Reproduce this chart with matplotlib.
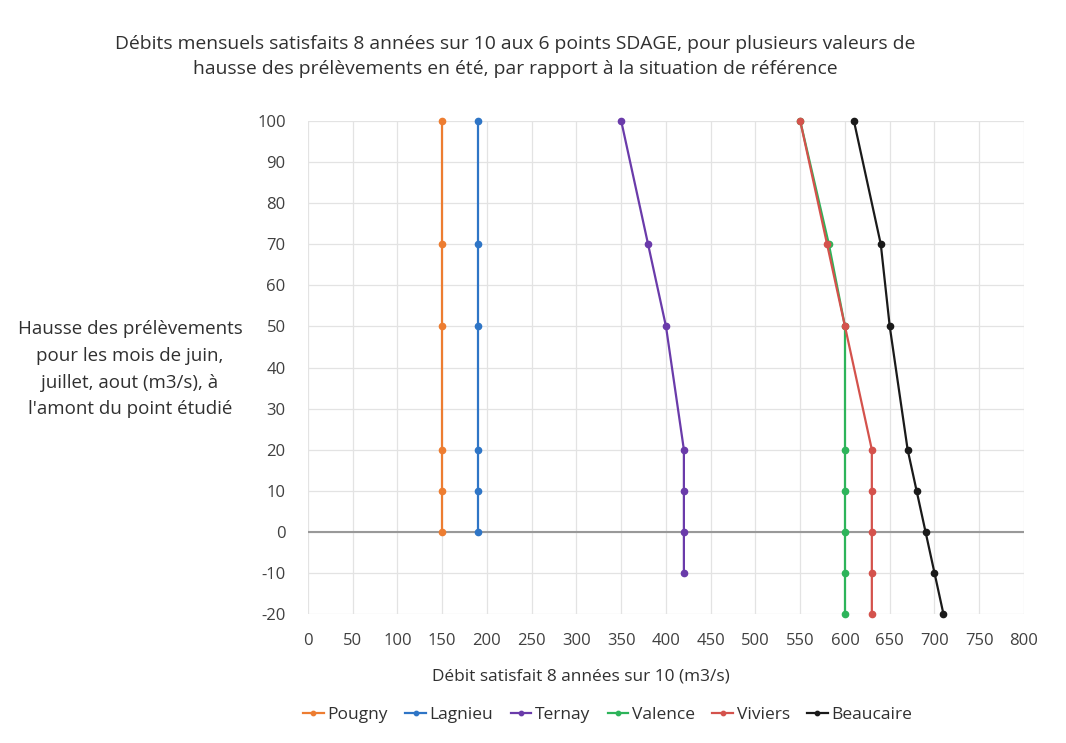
import matplotlib.pyplot as plt

plt.rcParams['font.family'] = ['Open Sans', 'DejaVu Sans']
plt.rcParams['axes.unicode_minus'] = False

# hausse des prélèvements (m3/s) and débit satisfait (m3/s) per station
hausse_pougny = [100, 70, 50, 20, 10, 0]
debit_pougny = [150, 150, 150, 150, 150, 150]

hausse_lagnieu = [100, 70, 50, 20, 10, 0]
debit_lagnieu = [190, 190, 190, 190, 190, 190]

hausse_ternay = [100, 70, 50, 20, 10, 0, -10]
debit_ternay = [350, 380, 400, 420, 420, 420, 420]

hausse_valence = [100, 70, 50, 20, 10, 0, -10, -20]
debit_valence = [550, 582, 600, 600, 600, 600, 600, 600]

hausse_viviers = [100, 70, 50, 20, 10, 0, -10, -20]
debit_viviers = [550, 580, 600, 630, 630, 630, 630, 630]

hausse_beaucaire = [100, 70, 50, 20, 10, 0, -10, -20]
debit_beaucaire = [610, 640, 650, 670, 680, 690, 700, 710]

series = [
    ('Pougny', debit_pougny, hausse_pougny, '#ED7D31'),
    ('Lagnieu', debit_lagnieu, hausse_lagnieu, '#2E75C6'),
    ('Ternay', debit_ternay, hausse_ternay, '#6A3BAA'),
    ('Valence', debit_valence, hausse_valence, '#2DB45A'),
    ('Viviers', debit_viviers, hausse_viviers, '#D4524C'),
    ('Beaucaire', debit_beaucaire, hausse_beaucaire, '#1A1A1A'),
]

fig = plt.figure(figsize=(10.66, 7.43), dpi=100)
ax = fig.add_axes([0.2889, 0.1736, 0.6717, 0.6635])

for name, x, y, c in series:
    ax.plot(x, y, '-o', color=c, lw=1.6, ms=4.5, label=name, clip_on=False)

ax.set_xlim(0, 800)
ax.set_ylim(-20, 100)
ax.set_xticks(range(0, 801, 50))
ax.set_yticks(range(-20, 101, 10))
ax.grid(color='#E3E3E3', lw=0.9)
ax.set_axisbelow(True)
ax.axhline(0, color='#999999', lw=1.5, zorder=1)
for s in ax.spines.values():
    s.set_visible(False)
ax.tick_params(length=0, labelsize=12, colors='#404040')
ax.tick_params(axis='x', pad=14)
ax.tick_params(axis='y', pad=16)

fig.text(0.483, 0.924, "Débits mensuels satisfaits 8 années sur 10 aux 6 points SDAGE, pour plusieurs valeurs de\n"
         "hausse des prélèvements en été, par rapport à la situation de référence",
         ha='center', va='center', fontsize=13.9, color='#303030', linespacing=1.55)

fig.text(0.122, 0.503, "Hausse des prélèvements\npour les mois de juin,\njuillet, aout (m3/s), à\nl'amont du point étudié",
         ha='center', va='center', fontsize=13.5, color='#303030', linespacing=1.62)

fig.text(0.545, 0.09, "Débit satisfait 8 années sur 10 (m3/s)",
         ha='center', va='center', fontsize=12.4, color='#303030')

fig.legend(loc='center', bbox_to_anchor=(0.57, 0.038), ncol=6, frameon=False,
           fontsize=12.5, handlelength=1.2, handletextpad=0.2, columnspacing=1.0,
           markerscale=0.7, labelcolor='#303030')

fig.savefig('out.png', dpi=100)
